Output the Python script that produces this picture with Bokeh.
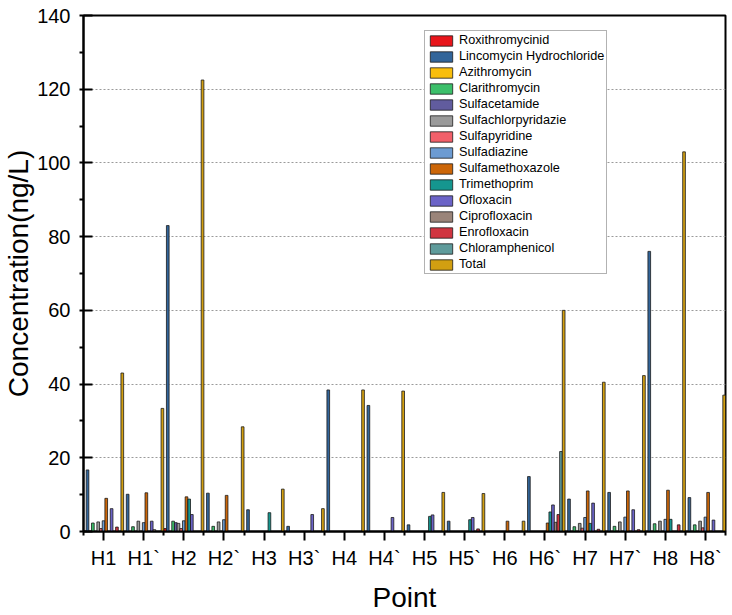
from bokeh.plotting import figure
from bokeh.models import (Range1d, FixedTicker, SingleIntervalTicker, Legend,
                          LegendItem, ColumnDataSource)
from bokeh.embed import file_html
from bokeh.resources import INLINE

groups = ["H1", "H1`", "H2", "H2`", "H3", "H3`", "H4", "H4`",
          "H5", "H5`", "H6", "H6`", "H7", "H7`", "H8", "H8`"]

roxithromycinid = [0, 0, 0.8, 0, 0, 0, 0, 0, 0, 0, 0, 0, 0, 0, 0, 0]
lincomycin = [16.7, 10.1, 83.0, 10.4, 5.9, 1.4, 38.4, 34.2, 1.8, 2.8, 0, 14.9, 8.8, 10.6, 76.0, 9.2]
azithromycin = [0, 0, 0, 0, 0, 0, 0, 0, 0, 0, 0, 0, 0, 0, 0, 0]
clarithromycin = [2.3, 1.3, 2.8, 1.4, 0, 0, 0, 0, 0, 0, 0, 0, 1.3, 1.4, 2.1, 1.8]
sulfacetamide = [0, 0, 2.4, 0, 0, 0, 0, 0, 0, 0, 0, 0, 0, 0, 0, 0]
sulfachlorpyridazie = [2.6, 2.8, 2.2, 2.6, 0, 0, 0, 0, 0, 0, 0, 0, 2.2, 2.6, 2.8, 2.8]
sulfapyridine = [0.8, 0, 0.8, 0, 0, 0, 0, 0, 0, 0, 0, 0, 0.9, 0, 0, 1.0]
sulfadiazine = [2.9, 2.4, 2.9, 3.2, 0, 0, 0, 0, 0, 0, 0, 0, 3.8, 3.9, 3.3, 3.9]
sulfamethoxazole = [9.0, 10.5, 9.4, 9.8, 0, 0, 0, 0, 0, 0, 2.8, 2.3, 11.0, 11.0, 11.2, 10.6]
trimethoprim = [0, 0, 8.8, 0, 5.1, 0, 0, 0, 4.1, 3.2, 0, 5.3, 2.2, 0, 3.3, 0]
ofloxacin = [6.2, 2.8, 4.6, 0, 0, 4.6, 0, 3.8, 4.5, 3.8, 0, 7.2, 7.7, 5.9, 0, 3.1]
ciprofloxacin = [0, 0.5, 0, 0, 0, 0, 0, 0, 0, 0, 0, 2.5, 0, 0, 0, 0]
enrofloxacin = [1.2, 0, 0, 0, 0, 0, 0, 0, 0, 0.7, 0, 4.6, 0.6, 0.5, 1.8, 0]
chloramphenicol = [0, 0, 0, 0, 0, 0, 0, 0, 0, 0, 0, 21.7, 0, 0, 0, 0]
total = [43.0, 33.4, 122.5, 28.4, 11.5, 6.2, 38.4, 38.1, 10.6, 10.3, 2.8, 60.0, 40.5, 42.3, 103.0, 37.0]

series_names = ["Roxithromycinid", "Lincomycin Hydrochloride", "Azithromycin",
                "Clarithromycin", "Sulfacetamide", "Sulfachlorpyridazie",
                "Sulfapyridine", "Sulfadiazine", "Sulfamethoxazole", "Trimethoprim",
                "Ofloxacin", "Ciprofloxacin", "Enrofloxacin", "Chloramphenicol", "Total"]
series_values = [roxithromycinid, lincomycin, azithromycin, clarithromycin,
                 sulfacetamide, sulfachlorpyridazie, sulfapyridine, sulfadiazine,
                 sulfamethoxazole, trimethoprim, ofloxacin, ciprofloxacin,
                 enrofloxacin, chloramphenicol, total]
series_colors = ["#E8151B", "#32659A", "#F9BE0B", "#3CBF6A", "#615C9E", "#9A9A9A",
                 "#F2606A", "#6C9BD2", "#CC6608", "#15968F", "#6B63C7", "#9A8479",
                 "#D0343F", "#5F9B9B", "#D29F11"]

FONT = "Liberation Sans"

p = figure(width=732, height=615, output_backend="svg", toolbar_location=None,
           x_range=Range1d(0, 16), y_range=Range1d(0, 140),
           min_border_left=82, min_border_right=7, min_border_top=15,
           min_border_bottom=82)
p.outline_line_color = "black"
p.outline_line_width = 2
p.background_fill_color = "white"
p.border_fill_color = "white"

n = len(series_names)
renderers = []
for j, (name, vals, col) in enumerate(zip(series_names, series_values, series_colors)):
    xs = [g + (j + 0.5) / n for g in range(len(vals))]
    src = ColumnDataSource(dict(x=xs, top=list(vals)))
    r = p.vbar(x="x", top="top", bottom=0, width=1.0 / n, source=src,
               fill_color=col, line_color="#1a1a1a", line_width=0.8)
    renderers.append(r)

# x axis
xa = p.xaxis[0]
xa.ticker = FixedTicker(ticks=[g + 0.5 for g in range(len(groups))],
                        minor_ticks=list(range(len(groups) + 1)))
xa.major_label_overrides = {g + 0.5: lab for g, lab in enumerate(groups)}
xa.major_tick_in = 0
xa.major_tick_out = 9
xa.minor_tick_in = 0
xa.minor_tick_out = 4
xa.axis_line_width = 2
xa.major_tick_line_width = 2
xa.minor_tick_line_width = 2
xa.major_label_text_font = FONT
xa.major_label_text_font_size = "20px"
xa.major_label_text_color = "black"
xa.major_label_standoff = 6
xa.axis_label = "Point"
xa.axis_label_text_font = FONT
xa.axis_label_text_font_size = "28px"
xa.axis_label_text_font_style = "normal"
xa.axis_label_text_color = "black"
xa.axis_label_standoff = 10

# y axis
ya = p.yaxis[0]
ya.ticker = SingleIntervalTicker(interval=20, num_minor_ticks=2)
ya.major_tick_in = 9
ya.major_tick_out = 0
ya.minor_tick_in = 0
ya.minor_tick_out = 4
ya.axis_line_width = 2
ya.major_tick_line_width = 2
ya.minor_tick_line_width = 2
ya.major_label_text_font = FONT
ya.major_label_text_font_size = "20px"
ya.major_label_text_color = "black"
ya.major_label_standoff = 9
ya.axis_label = "Concentration(ng/L)"
ya.axis_label_text_font = FONT
ya.axis_label_text_font_size = "28px"
ya.axis_label_text_font_style = "normal"
ya.axis_label_text_color = "black"
ya.axis_label_standoff = 0

p.xgrid.grid_line_color = None
p.ygrid.grid_line_color = "#9a9a9a"
p.ygrid.grid_line_dash = "2 2"
p.ygrid.grid_line_width = 1

legend = Legend(items=[LegendItem(label=nm, renderers=[r]) for nm, r in zip(series_names, renderers)],
                location=(341, 257), orientation="vertical")
legend.margin = 0
legend.padding = 2
legend.spacing = 2
legend.glyph_width = 28
legend.glyph_height = 13
legend.label_height = 14
legend.label_standoff = 4
legend.label_text_font = FONT
legend.label_text_font_size = "12.7px"
legend.label_text_color = "black"
legend.border_line_color = "#666666"
legend.border_line_width = 1.2
legend.background_fill_color = "white"
legend.background_fill_alpha = 1
p.add_layout(legend, "center")

open("out.html", "w").write(file_html(p, INLINE))
